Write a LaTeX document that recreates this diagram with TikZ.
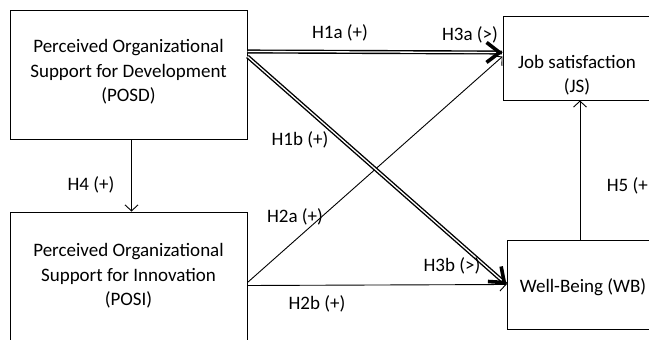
\documentclass[tikz,border=0pt]{standalone}
\usepackage{fontspec}
\setmainfont{Carlito}
\usetikzlibrary{arrows.meta,calc}
\begin{document}
\begin{tikzpicture}[x=1pt,y=-1pt,
  box/.style={draw, line width=1pt, inner sep=0pt},
  txt/.style={align=center, inner sep=0pt, font=\fontsize{19}{24.5}\selectfont},
  lbl/.style={inner sep=0pt, font=\fontsize{19}{22}\selectfont},
  thin/.style={line width=0.9pt, -{Straight Barb[length=6pt,width=13pt,line width=0.9pt]}},
  dbl/.style={double, line width=1.4pt, double distance=1.3pt},
  thicktip/.style={line width=3.6pt, -{Straight Barb[length=13pt,width=20pt]}}]
\useasboundingbox (0,0) rectangle (649,340);
\clip (0,0) rectangle (649,340);
% boxes
\node[box, minimum width=237pt, minimum height=129pt] (POSD) at (128.5,74.5) {};
\node[box, minimum width=237pt, minimum height=132pt] (POSI) at (128.5,278) {};
\node[box, minimum width=148pt, minimum height=84pt] (JS) at (577,58) {};
\node[box, minimum width=152pt, minimum height=89pt] (WB) at (583,284.5) {};
% texts
\node[txt] (POSDt) at (128.5,72) {Perceived Organizational\\Support for Development\\(POSD)};
\node[txt] (POSIt) at (128.5,276) {Perceived Organizational\\Support for Innovation\\(POSI)};
\node[txt] (JSt) at (577,75) {Job satisfaction\\(JS)};
\node[txt] (WBt) at (583,287) {Well-Being (WB)};
% connector end points
\coordinate (h1as) at ($(POSD.north east)+(0,42)$);
\coordinate (h1ae) at ($(JS.north west)+(0,37)$);
\coordinate (h1bs) at ($(POSD.north east)+(0,47)$);
\coordinate (h1be) at ($(WB.north west)+(0,45)$);
\coordinate (h2as) at ($(POSI.north east)+(0,71)$);
\coordinate (h2ae) at ($(JS.north west)+(0,41)$);
\coordinate (h2bs) at ($(POSI.north east)+(0,74)$);
% thin connectors
\draw[thin] (h2as) -- (h2ae);
\draw[thin] (h2bs) -- (h1be);
\draw[thin] ([xshift=3pt]POSD.south) -- ([xshift=3pt]POSD.south |- POSI.north);
\draw[thin] ([xshift=-3pt]WB.north) -- ([xshift=-3pt]WB.north |- JS.south);
% double connectors
\draw[dbl, shorten >=4pt] (h1as) -- (h1ae);
\draw[thicktip] ($(h1ae)!0.5pt!(h1as)$) -- (h1ae);
\draw[dbl, shorten >=4pt] (h1bs) -- (h1be);
\draw[thicktip] ($(h1be)!0.5pt!(h1bs)$) -- (h1be);
% labels
\node[lbl] (L1a) at (340,33) {H1a (+)};
\node[lbl] (L3a) at (470,35) {H3a (>)};
\node[lbl] (L1b) at (300,140) {H1b (+)};
\node[lbl] (L2a) at (295,217) {H2a (+)};
\node[lbl] (L3b) at (452,266) {H3b (>)};
\node[lbl] (L2b) at (317,304) {H2b (+)};
\node[lbl] (L4) at (91,185) {H4 (+)};
\node[lbl, anchor=east] (L5) at (648,186) {H5 (+};
\end{tikzpicture}
\end{document}
